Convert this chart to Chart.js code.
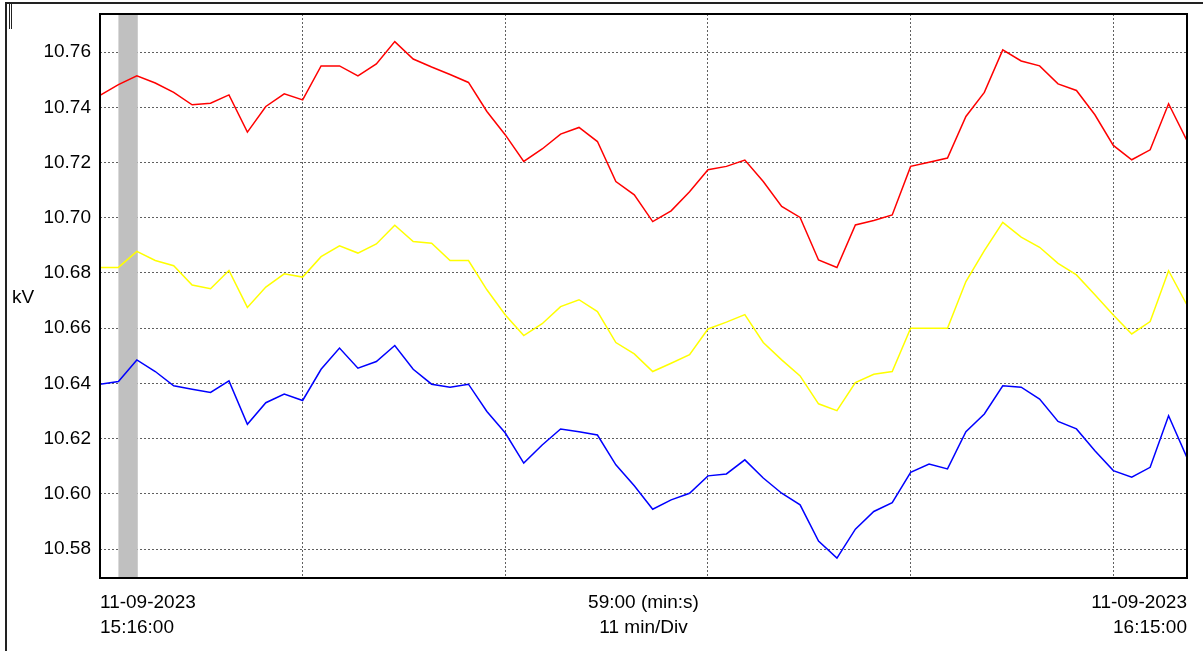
<!DOCTYPE html>
<html>
<head>
<meta charset="utf-8">
<script src="https://cdn.jsdelivr.net/npm/chart.js@4.4.0/dist/chart.umd.min.js"></script>
<style>
  html, body { margin: 0; padding: 0; background: #fff; }
  canvas { display: block; }
</style>
</head>
<body>
<canvas id="trendChart" width="1203" height="651"></canvas>
<script>
// one sample per minute, 15:16:00 .. 16:15:00
const minutes = Array.from({ length: 60 }, (_, i) => i);

const phaseA = [10.7443, 10.7482, 10.7514, 10.7488, 10.7454, 10.7409, 10.7415, 10.7445, 10.7310, 10.7403,
                10.7449, 10.7427, 10.7550, 10.7550, 10.7514, 10.7557, 10.7638, 10.7575, 10.7546, 10.7519,
                10.7490, 10.7385, 10.7300, 10.7204, 10.7249, 10.7303, 10.7327, 10.7276, 10.7131, 10.7083,
                10.6986, 10.7025, 10.7094, 10.7174, 10.7186, 10.7209, 10.7131, 10.7041, 10.7001, 10.6847,
                10.6820, 10.6974, 10.6990, 10.7010, 10.7186, 10.7201, 10.7216, 10.7367, 10.7454, 10.7608,
                10.7568, 10.7550, 10.7485, 10.7461, 10.7373, 10.7262, 10.7210, 10.7246, 10.7413, 10.7279];

const phaseB = [10.6820, 10.6820, 10.6878, 10.6845, 10.6826, 10.6756, 10.6743, 10.6809, 10.6675, 10.6749,
                10.6797, 10.6785, 10.6859, 10.6898, 10.6872, 10.6905, 10.6973, 10.6914, 10.6908, 10.6845,
                10.6845, 10.6739, 10.6648, 10.6573, 10.6616, 10.6678, 10.6703, 10.6660, 10.6548, 10.6507,
                10.6443, 10.6473, 10.6504, 10.6597, 10.6622, 10.6649, 10.6548, 10.6485, 10.6427, 10.6326,
                10.6301, 10.6403, 10.6433, 10.6443, 10.6600, 10.6600, 10.6600, 10.6769, 10.6881, 10.6983,
                10.6930, 10.6893, 10.6835, 10.6793, 10.6721, 10.6648, 10.6579, 10.6624, 10.6808, 10.6684];

const phaseC = [10.6397, 10.6407, 10.6485, 10.6443, 10.6391, 10.6379, 10.6367, 10.6409, 10.6252, 10.6330,
                10.6361, 10.6338, 10.6451, 10.6528, 10.6455, 10.6479, 10.6537, 10.6451, 10.6397, 10.6386,
                10.6397, 10.6298, 10.6220, 10.6111, 10.6177, 10.6235, 10.6225, 10.6213, 10.6105, 10.6029,
                10.5944, 10.5978, 10.6002, 10.6065, 10.6072, 10.6123, 10.6057, 10.6002, 10.5960, 10.5829,
                10.5767, 10.5872, 10.5936, 10.5968, 10.6078, 10.6108, 10.6090, 10.6225, 10.6289, 10.6391,
                10.6386, 10.6343, 10.6262, 10.6235, 10.6156, 10.6084, 10.6060, 10.6096, 10.6283, 10.6131];

const yTicks = [10.58, 10.60, 10.62, 10.64, 10.66, 10.68, 10.70, 10.72, 10.74, 10.76];
const startLabel = ['11-09-2023', '15:16:00'];
const spanLabel = ['59:00 (min:s)', '11 min/Div'];
const endLabel = ['11-09-2023', '16:15:00'];
const unitLabel = 'kV';
const cursorRange = [1, 2.05]; // grey cursor band, minutes from start

const FONT = '19px "Liberation Sans", Arial, sans-serif';

const toPoints = (values) => values.map((v, i) => ({ x: minutes[i], y: v }));

const scopeDecor = {
    id: 'scopeDecor',
    beforeDraw(chart) {
        const ctx = chart.ctx;
        ctx.save();
        ctx.fillStyle = '#fff';
        ctx.fillRect(0, 0, chart.width, chart.height);
        // outer window frame
        ctx.strokeStyle = '#222';
        ctx.lineWidth = 2;
        ctx.beginPath();
        ctx.moveTo(6, chart.height);
        ctx.lineTo(6, 3);
        ctx.lineTo(chart.width, 3);
        ctx.stroke();
        ctx.lineWidth = 1;
        ctx.beginPath();
        ctx.moveTo(9.5, 4); ctx.lineTo(9.5, 29);
        ctx.moveTo(11.5, 4); ctx.lineTo(11.5, 29);
        ctx.stroke();
        ctx.restore();
    },
    beforeDatasetsDraw(chart) {
        const { ctx, chartArea, scales } = chart;
        const x0 = scales.x.getPixelForValue(cursorRange[0]);
        const x1 = scales.x.getPixelForValue(cursorRange[1]);
        ctx.save();
        ctx.fillStyle = '#c0c0c0';
        ctx.fillRect(x0, chartArea.top, x1 - x0, chartArea.bottom - chartArea.top);
        ctx.restore();
    },
    afterDraw(chart) {
        const { ctx, chartArea } = chart;
        ctx.save();
        ctx.strokeStyle = '#000';
        ctx.lineWidth = 2;
        ctx.strokeRect(chartArea.left, chartArea.top, chartArea.right - chartArea.left, chartArea.bottom - chartArea.top);

        ctx.fillStyle = '#000';
        ctx.font = FONT;
        ctx.textBaseline = 'middle';
        ctx.textAlign = 'left';
        ctx.fillText(unitLabel, 12, 298);

        const y1 = chartArea.bottom + 25;
        const y2 = chartArea.bottom + 50;
        ctx.fillText(startLabel[0], chartArea.left, y1);
        ctx.fillText(startLabel[1], chartArea.left, y2);
        ctx.textAlign = 'center';
        const mid = (chartArea.left + chartArea.right) / 2;
        ctx.fillText(spanLabel[0], mid, y1);
        ctx.fillText(spanLabel[1], mid, y2);
        ctx.textAlign = 'right';
        ctx.fillText(endLabel[0], chartArea.right, y1);
        ctx.fillText(endLabel[1], chartArea.right, y2);
        ctx.restore();
    }
};

const gridStyle = {
    color: '#606060',
    lineWidth: 1,
    drawTicks: false
};

new Chart(document.getElementById('trendChart').getContext('2d'), {
    type: 'line',
    data: {
        datasets: [
            { label: 'L1', data: toPoints(phaseA), borderColor: '#ff0000' },
            { label: 'L2', data: toPoints(phaseB), borderColor: '#ffff00' },
            { label: 'L3', data: toPoints(phaseC), borderColor: '#0000ff' }
        ]
    },
    options: {
        responsive: false,
        animation: false,
        layout: { padding: { left: 0, top: 14, right: 16, bottom: 0 } },
        elements: {
            line: { borderWidth: 1.5, tension: 0, fill: false },
            point: { radius: 0, hoverRadius: 0 }
        },
        plugins: {
            legend: { display: false },
            tooltip: { enabled: false }
        },
        scales: {
            x: {
                type: 'linear',
                min: 0,
                max: 59,
                ticks: { stepSize: 11, display: false },
                grid: gridStyle,
                border: { display: false, dash: [2, 2] },
                afterFit: (scale) => {
                    scale.height = 73;
                    scale.paddingLeft = 0;
                    scale.paddingRight = 0;
                }
            },
            y: {
                min: 10.5695,
                max: 10.7738,
                afterBuildTicks: (scale) => { scale.ticks = yTicks.map(v => ({ value: v })); },
                ticks: {
                    padding: 9,
                    color: '#000',
                    font: { family: '"Liberation Sans", Arial, sans-serif', size: 19 },
                    callback: (v) => Number(v).toFixed(2)
                },
                grid: gridStyle,
                border: { display: false, dash: [2, 2] },
                afterFit: (scale) => {
                    scale.width = 100;
                    scale.paddingTop = 0;
                    scale.paddingBottom = 0;
                }
            }
        }
    },
    plugins: [scopeDecor]
});
</script>
</body>
</html>
